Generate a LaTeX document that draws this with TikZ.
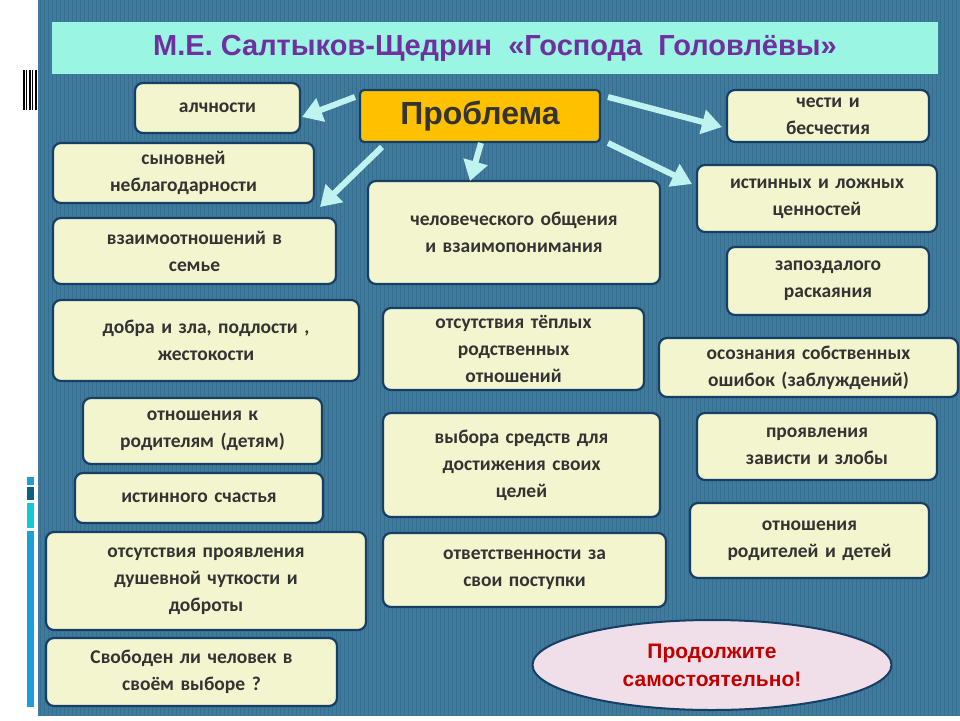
\documentclass[tikz,border=0pt]{standalone}
\usepackage{fontspec}
\setmainfont{Carlito}
\newfontfamily\arialf{Liberation Sans}
\usetikzlibrary{arrows.meta,shapes.geometric}
\definecolor{panel}{HTML}{3E7B9E}
\definecolor{boxf}{HTML}{F3F5CE}
\definecolor{boxd}{HTML}{163F66}
\definecolor{titlef}{HTML}{9AF5E2}
\definecolor{purp}{HTML}{7030A0}
\definecolor{arr}{HTML}{BFF3F0}
\definecolor{bl1}{HTML}{1C9FD6}
\definecolor{bl2}{HTML}{0A6080}
\definecolor{bl3}{HTML}{12C8D6}
\definecolor{gold}{HTML}{FFC000}
\definecolor{pinkf}{HTML}{F0DEE8}
\definecolor{redt}{HTML}{C00000}
\begin{document}
\begin{tikzpicture}[x=1pt,y=-1pt,
 box/.style={draw=boxd,line width=2.2pt,fill=boxf,rounded corners=8pt,align=center,font=\bfseries\fontsize{19.5}{27}\selectfont,text=black!80},
 arrw/.style={draw=arr,line width=6pt,-{Triangle[length=20pt,width=24pt]}}]
\useasboundingbox (0,0) rectangle (960,720);
\fill[white] (0,0) rectangle (960,720);
\fill[panel] (38,0) rectangle (960,716);
\foreach \i in {0,...,229}{\draw[panel!80!black,line width=0.6pt,opacity=0.5] (40+\i*4,0) -- (40+\i*4,716);}
% left decorations
\foreach \xx/\w in {23/1.5,26/1,28.5/2,32/1,34.5/2.5}{\fill[black] (\xx,70) rectangle (\xx+\w,110);}
\fill[bl1] (27,477) rectangle (34,485);
\fill[bl2] (27,487) rectangle (34,500);
\fill[bl3] (27,503) rectangle (34,528);
\fill[bl1] (27,531) rectangle (34,707);
% title
\node[fill=titlef,minimum width=886pt,minimum height=52pt,inner sep=0pt,font=\arialf\bfseries\fontsize{29}{32}\selectfont,text=purp] (title) at (495,48) {М.Е. Салтыков-Щедрин \ «Господа \ Головлёвы»};
\newcommand\bx[6]{\node[box,minimum width=#4-#2,minimum height=#5-#3,text width=#4-#2-12pt,inner sep=0pt] (#1) at ({(#2+#4)/2},{(#3+#5)/2}) {#6};}
\bx{a1}{135}{83}{300}{133}{алчности}
\bx{a2}{53}{143}{314}{203}{сыновней\\неблагодарности}
\bx{a3}{53}{218}{336}{284}{взаимоотношений в\\семье}
\bx{a4}{53}{300}{359}{381}{добра и зла, подлости ,\\жестокости}
\bx{a5}{83}{398}{322}{464}{отношения к\\родителям (детям)}
\bx{a6}{75}{473}{323}{523}{истинного счастья}
\bx{a7}{46}{532}{366}{630}{отсутствия проявления\\душевной чуткости и\\доброты}
\bx{a8}{46}{638}{337}{706}{Свободен ли человек в\\своём выборе ?}
\bx{b1}{368}{181}{660}{284}{человеческого общения\\и взаимопонимания}
\bx{b2}{383}{308}{644}{390}{отсутствия тёплых\\родственных\\отношений}
\bx{b3}{383}{413}{660}{517}{выбора средств для\\достижения своих\\целей}
\bx{b4}{383}{533}{666}{607}{ответственности за\\свои поступки}
\bx{c1}{727}{90}{929}{142}{чести и\\бесчестия}
\bx{c2}{697}{165}{937}{232}{истинных и ложных\\ценностей}
\bx{c3}{727}{247}{929}{315}{запоздалого\\раскаяния}
\bx{c4}{659}{338}{958}{397}{осознания собственных\\ошибок (заблуждений)}
\bx{c5}{697}{413}{937}{480}{проявления\\зависти и злобы}
\bx{c6}{690}{503}{929}{578}{отношения\\родителей и детей}
\node[box,rounded corners=4pt,fill=gold,minimum width=240pt,minimum height=52pt,font=\arialf\bfseries\fontsize{32}{36}\selectfont] (p) at (480,116) {Проблема};
\node[ellipse,draw=boxd,line width=2pt,fill=pinkf,minimum width=359pt,minimum height=90pt,align=center,font=\arialf\bfseries\fontsize{21}{28}\selectfont,text=redt] (e) at (712,665) {Продолжите\\самостоятельно!};
% arrow endpoints
\coordinate (s1) at (355,97);  \coordinate (t1) at (302,117);
\coordinate (s2) at (382,147); \coordinate (t2) at (320,207);
\coordinate (s3) at (481,143); \coordinate (t3) at (470,181);
\coordinate (s4) at (608,97);  \coordinate (t4) at (722,127);
\coordinate (s5) at (608,143); \coordinate (t5) at (692,184);
\draw[arrw] (s1) -- (t1);
\draw[arrw] (s2) -- (t2);
\draw[arrw] (s3) -- (t3);
\draw[arrw] (s4) -- (t4);
\draw[arrw] (s5) -- (t5);
\end{tikzpicture}
\end{document}
